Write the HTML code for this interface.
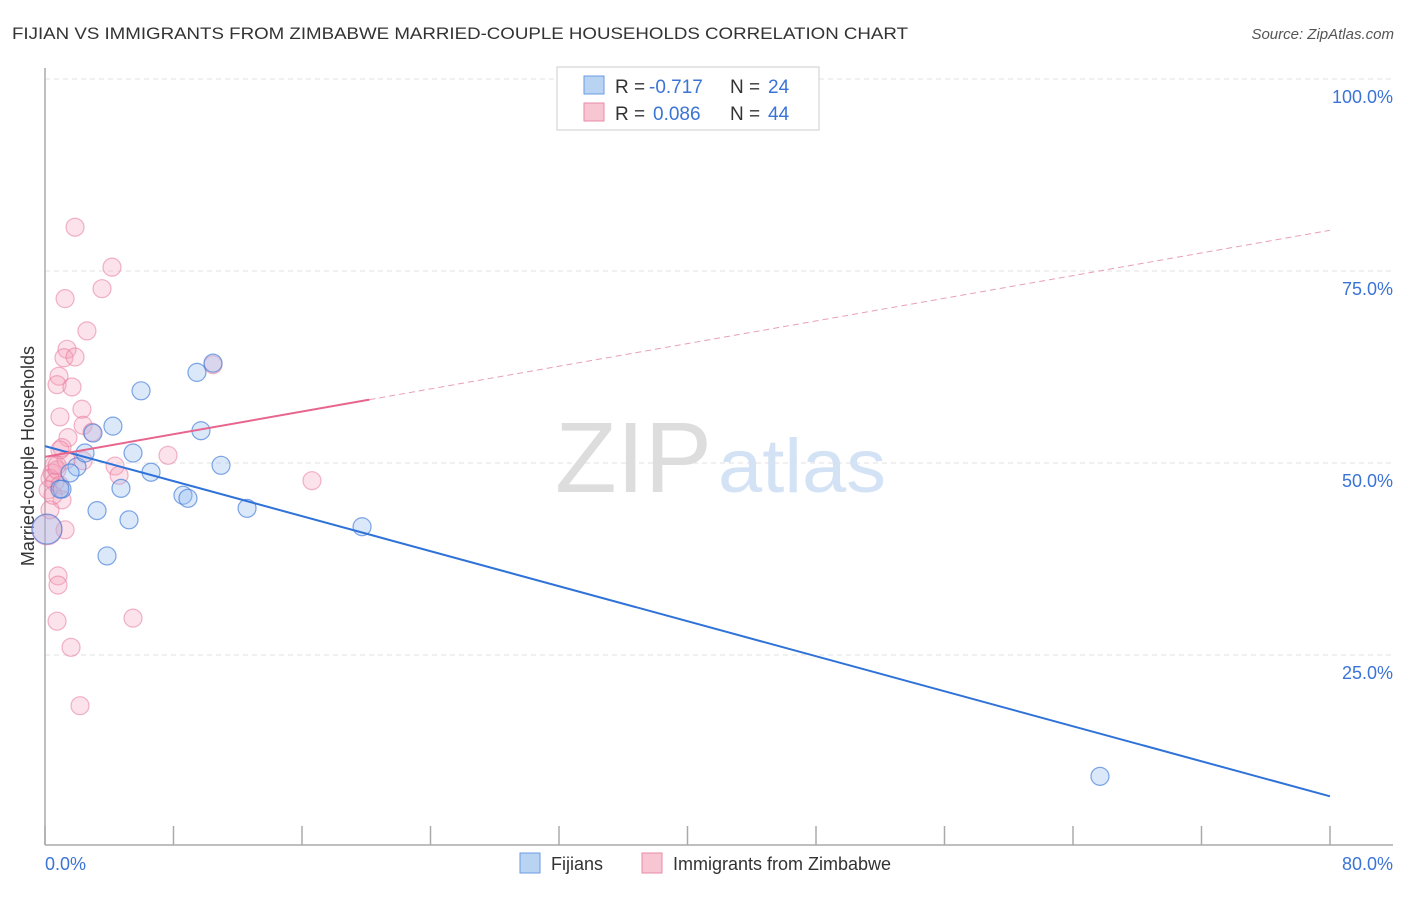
<!DOCTYPE html>
<html><head><meta charset="utf-8"><style>
body{margin:0;background:#fff;font-family:"Liberation Sans",sans-serif}
svg text{font-family:"Liberation Sans",sans-serif}
</style></head><body>
<svg width="1406" height="892" viewBox="0 0 1406 892">
<text x="12" y="39" font-size="17" fill="#333" textLength="896" lengthAdjust="spacingAndGlyphs">FIJIAN VS IMMIGRANTS FROM ZIMBABWE MARRIED-COUPLE HOUSEHOLDS CORRELATION CHART</text>
<text x="1394" y="39" font-size="15" fill="#555" font-style="italic" text-anchor="end">Source: ZipAtlas.com</text>
<g id="grid"></g>
<text x="555" y="492" font-size="100" fill="#ddd" textLength="157" lengthAdjust="spacingAndGlyphs" font-family="Liberation Serif">ZIP</text>
<text x="718" y="492" font-size="76" fill="#d3e2f4" textLength="168" lengthAdjust="spacingAndGlyphs">atlas</text>
<text x="34" y="456" font-size="18" fill="#333" text-anchor="middle" transform="rotate(-90 34 456)">Married-couple Households</text>
<g id="points"></g>
<g id="lines"></g>
<g>
<rect x="557" y="67" width="262" height="63" fill="#fff" stroke="#ccc"/>
<rect x="584" y="76" width="20" height="18" fill="#b9d3f3" stroke="#6a9be0"/>
<rect x="584" y="103" width="20" height="18" fill="#f8c6d3" stroke="#e98aa5"/>
<text y="93" font-size="19" fill="#333"><tspan x="615">R =</tspan><tspan x="649" fill="#3b73d6">-0.717</tspan><tspan x="730">N =</tspan><tspan x="768" fill="#3b73d6">24</tspan></text>
<text y="120" font-size="19" fill="#333"><tspan x="615">R =</tspan><tspan x="653" fill="#3b73d6">0.086</tspan><tspan x="730">N =</tspan><tspan x="768" fill="#3b73d6">44</tspan></text>
</g>
<g>
<rect x="520" y="853" width="20" height="20" fill="#b9d3f3" stroke="#6a9be0"/>
<text x="551" y="870" font-size="18" fill="#333">Fijians</text>
<rect x="642" y="853" width="20" height="20" fill="#f8c6d3" stroke="#e98aa5"/>
<text x="673" y="870" font-size="18" fill="#333">Immigrants from Zimbabwe</text>
</g>
</svg>
<script>
const blueX=[4.23,5.98,9.46,10.46,9.71,5.48,6.6,10.96,1.99,2.49,1.56,1.06,4.73,8.59,8.9,12.58,3.24,5.23,3.86,19.74,2.99,65.68,0.12,0.93];
const blueY=[54.8,59.4,61.8,63.0,54.2,51.3,48.8,49.7,49.5,51.3,48.7,46.6,46.7,45.8,45.4,44.1,43.8,42.6,37.9,41.7,53.9,9.2,41.4,46.6];
const pinkX=[1.87,4.17,3.55,1.25,2.61,1.37,1.18,1.87,0.87,0.75,1.68,0.93,2.3,2.37,2.93,1.43,1.06,2.37,4.36,4.61,7.66,10.46,16.62,0.56,0.44,0.31,0.62,0.75,0.93,1.06,0.31,1.25,0.12,0.81,0.81,0.75,1.62,2.18,5.48,1.31,0.19,0.5,0.93,0.75];
const pinkY=[80.7,75.5,72.7,71.4,67.2,64.8,63.7,63.8,61.3,60.2,59.9,56.0,57.0,54.9,54.0,53.3,52.0,50.3,49.6,48.4,51.0,62.8,47.7,49.7,48.7,48.0,47.5,49.1,47.1,45.2,43.9,41.3,41.3,35.3,34.1,29.4,26.0,18.4,29.8,50.4,46.5,45.8,51.7,49.7];
const yTicks=[100,75,50,25];
const yTickLabels=["100.0%","75.0%","50.0%","25.0%"];
const xTickLabels=["0.0%","80.0%"];
const blueLine=[52.2,6.6];
const pinkLine=[50.8,80.3];
const pinkSolidEnd=20.2;
const NS="http://www.w3.org/2000/svg";
const X=v=>45+v/80*1285, Y=v=>847-v*7.68;
function mk(tag,attrs,parent){const e=document.createElementNS(NS,tag);for(const k in attrs)e.setAttribute(k,attrs[k]);parent.appendChild(e);return e;}
const grid=document.getElementById('grid');
yTicks.forEach((t,i)=>{
 const l=mk('line',{x1:45,x2:1393,y1:Y(t),y2:Y(t),stroke:'#e2e2e2','stroke-dasharray':'5,4'},grid);
 
 
 const tx=mk('text',{x:1393,y:Y(t)+24,'font-size':18,fill:'#3b73d6','text-anchor':'end'},grid);
 tx.textContent=yTickLabels[i];
 
 
});
const ax=mk('line',{x1:45,x2:45,y1:68,y2:845,stroke:'#aaa','stroke-width':1.5},grid);


const bx=mk('line',{x1:45,x2:1393,y1:845,y2:845,stroke:'#aaa','stroke-width':1.5},grid);


for(let i=0;i<=10;i++){
 const t=mk('line',{x1:X(i*8),x2:X(i*8),y1:826,y2:845,stroke:'#aaa','stroke-width':1.5},grid);
 
 
}
[[0,'start'],[80,'end']].forEach((p,i)=>{
 const tx=mk('text',{x:i?1393:45,y:870,'font-size':18,fill:'#3b73d6','text-anchor':p[1]},grid);
 tx.textContent=xTickLabels[i];
 
 
});
const pts=document.getElementById('points');
pinkX.forEach((x,i)=>{
 const big=(x<0.2&&pinkY[i]<42&&pinkY[i]>40);
 const c=mk('circle',{cx:X(x),cy:Y(pinkY[i]),r:big?15:9,fill:'rgba(244,160,185,0.3)',stroke:'rgba(232,120,155,0.55)','stroke-width':1.2},pts);
 
 
});
blueX.forEach((x,i)=>{
 const big=(x<0.2&&blueY[i]<42&&blueY[i]>40);
 const c=mk('circle',{cx:X(x),cy:Y(blueY[i]),r:big?15:9,fill:'rgba(150,190,240,0.35)',stroke:'rgba(60,120,215,0.65)','stroke-width':1.2},pts);
 
 
});
const lines=document.getElementById('lines');
const pAt=x=>pinkLine[0]+(pinkLine[1]-pinkLine[0])*x/80;
let l1=mk('line',{x1:X(0),y1:Y(blueLine[0]),x2:X(80),y2:Y(blueLine[1]),stroke:'#2f72d8','stroke-width':2},lines);


let l2=mk('line',{x1:X(0),y1:Y(pAt(0)),x2:X(pinkSolidEnd),y2:Y(pAt(pinkSolidEnd)),stroke:'#e8658e','stroke-width':2},lines);


let l3=mk('line',{x1:X(pinkSolidEnd),y1:Y(pAt(pinkSolidEnd)),x2:X(80),y2:Y(pAt(80)),stroke:'#e8a0b5','stroke-width':1,'stroke-dasharray':'6,4'},lines);


</script>
</body></html>
